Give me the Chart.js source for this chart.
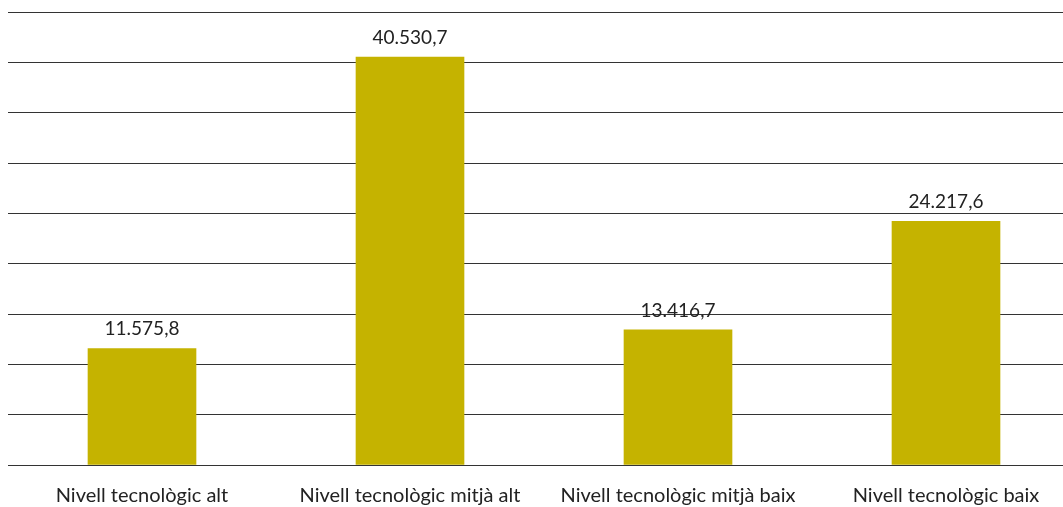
<!DOCTYPE html>
<html>
<head>
<meta charset="utf-8">
<script src="https://cdn.jsdelivr.net/npm/chart.js@4/dist/chart.umd.min.js"></script>
<style>
html, body { margin: 0; padding: 0; background: #fff; overflow: hidden; }
#wrap { position: relative; width: 1080px; height: 507px; }
</style>
</head>
<body>
<div id="wrap"><canvas id="chart"></canvas></div>
<script>
var categories = ["Nivell tecnològic alt", "Nivell tecnològic mitjà alt", "Nivell tecnològic mitjà baix", "Nivell tecnològic baix"]
var values = [11575.8, 40530.7, 13416.7, 24217.6]
var yMax = 45000
var yStep = 5000

// catalan style number: 40.530,7
function fmt(v) {
    var parts = v.toFixed(1).split(".")
    var intPart = parts[0].replace(/\B(?=(\d{3})+(?!\d))/g, ".")
    return intPart + "," + parts[1]
}

var valueLabels = {
    id: "valueLabels",
    afterDatasetsDraw: function(chart) {
        var ctx = chart.ctx
        var meta = chart.getDatasetMeta(0)
        ctx.save()
        ctx.font = "19px Lato"
        ctx.fillStyle = "#222"
        ctx.textAlign = "center"
        ctx.textBaseline = "alphabetic"
        meta.data.forEach(function(bar, i) {
            ctx.fillText(fmt(values[i]), bar.x, bar.y - 13)
        })
        ctx.restore()
    }
}

new Chart("chart", {
    type: "bar",
    data: {
        labels: categories,
        datasets: [{
            data: values,
            backgroundColor: "#c5b300",
            barThickness: 108
        }]
    },
    options: {
        responsive: true,
        maintainAspectRatio: false,
        animation: false,
        layout: { padding: { top: 12, left: 8, right: 0, bottom: 0 } },
        plugins: {
            legend: { display: false },
            tooltip: { enabled: false }
        },
        scales: {
            x: {
                grid: { display: false },
                border: { display: false },
                ticks: {
                    color: "#222",
                    font: { family: "Lato", size: 20 },
                    padding: 11,
                    maxRotation: 0
                },
                afterFit: function(scale) { scale.height = 42 }
            },
            y: {
                min: 0,
                max: yMax,
                grid: { color: "#333", lineWidth: 1, drawTicks: false },
                border: { display: false },
                ticks: { display: false, stepSize: yStep }
            }
        }
    },
    plugins: [valueLabels]
});
</script>
</body>
</html>
